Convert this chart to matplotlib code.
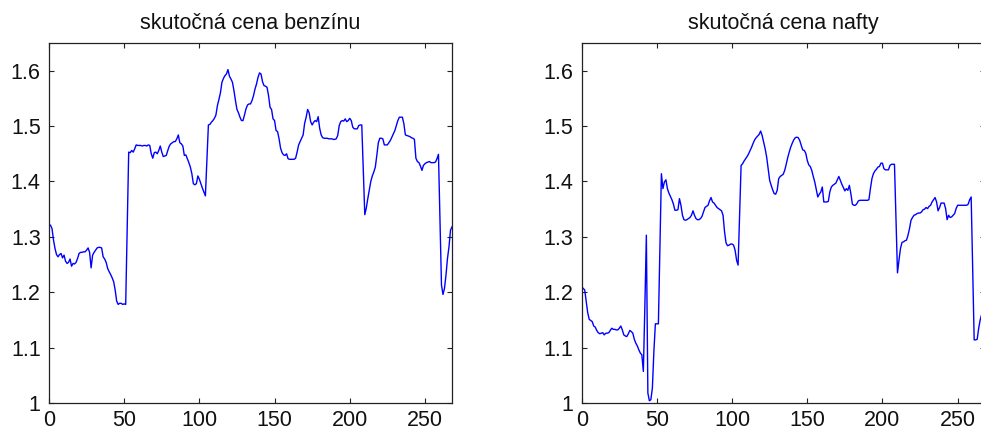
import matplotlib
matplotlib.use("Agg")
import matplotlib.pyplot as plt
import numpy as np

plt.rcParams['font.family'] = ['Liberation Sans', 'DejaVu Sans']

titles = ["skutočná cena benzínu", "skutočná cena nafty"]

x_ticks = [0, 50, 100, 150, 200, 250]
y_ticks = [1.0, 1.1, 1.2, 1.3, 1.4, 1.5, 1.6]
y_tick_labels = ["1", "1.1", "1.2", "1.3", "1.4", "1.5", "1.6"]

benzin = [
    1.321, 1.315, 1.294, 1.279, 1.268, 1.264, 1.268, 1.270, 1.262, 1.267,
    1.256, 1.252, 1.254, 1.260, 1.247, 1.252, 1.251, 1.254, 1.261, 1.270,
    1.272, 1.272, 1.273, 1.273, 1.276, 1.280, 1.272, 1.244, 1.267, 1.272,
    1.276, 1.280, 1.281, 1.281, 1.280, 1.264, 1.260, 1.254, 1.243, 1.237,
    1.232, 1.226, 1.219, 1.204, 1.184, 1.178, 1.180, 1.180, 1.178, 1.179,
    1.178, 1.316, 1.453, 1.452, 1.456, 1.453, 1.459, 1.466, 1.465, 1.465,
    1.465, 1.464, 1.465, 1.465, 1.464, 1.466, 1.465, 1.450, 1.442, 1.452,
    1.453, 1.450, 1.456, 1.464, 1.453, 1.445, 1.446, 1.447, 1.456, 1.464,
    1.468, 1.470, 1.472, 1.472, 1.477, 1.484, 1.470, 1.468, 1.464, 1.447,
    1.448, 1.441, 1.434, 1.426, 1.414, 1.396, 1.394, 1.396, 1.410, 1.404,
    1.396, 1.388, 1.381, 1.374, 1.438, 1.502, 1.503, 1.507, 1.510, 1.514,
    1.520, 1.537, 1.548, 1.560, 1.579, 1.586, 1.591, 1.594, 1.602, 1.590,
    1.585, 1.579, 1.564, 1.546, 1.530, 1.524, 1.516, 1.510, 1.510, 1.520,
    1.531, 1.538, 1.540, 1.540, 1.546, 1.555, 1.567, 1.576, 1.588, 1.596,
    1.594, 1.580, 1.573, 1.572, 1.570, 1.555, 1.534, 1.530, 1.513, 1.510,
    1.492, 1.490, 1.477, 1.460, 1.452, 1.448, 1.447, 1.450, 1.441, 1.440,
    1.440, 1.440, 1.440, 1.442, 1.453, 1.466, 1.472, 1.478, 1.484, 1.505,
    1.516, 1.530, 1.524, 1.508, 1.502, 1.507, 1.510, 1.508, 1.517, 1.496,
    1.484, 1.479, 1.478, 1.478, 1.478, 1.477, 1.477, 1.477, 1.476, 1.476,
    1.477, 1.483, 1.501, 1.508, 1.510, 1.509, 1.513, 1.508, 1.510, 1.514,
    1.510, 1.498, 1.495, 1.495, 1.495, 1.501, 1.502, 1.502, 1.420, 1.340,
    1.352, 1.369, 1.384, 1.400, 1.410, 1.417, 1.426, 1.447, 1.470, 1.478,
    1.478, 1.477, 1.466, 1.466, 1.466, 1.470, 1.474, 1.480, 1.486, 1.492,
    1.501, 1.510, 1.516, 1.516, 1.516, 1.504, 1.484, 1.483, 1.482, 1.481,
    1.479, 1.478, 1.476, 1.442, 1.436, 1.434, 1.428, 1.420, 1.429, 1.432,
    1.434, 1.435, 1.436, 1.434, 1.434, 1.434, 1.435, 1.441, 1.449, 1.331,
    1.213, 1.196, 1.207, 1.231, 1.261, 1.282, 1.312, 1.318,
]

nafta = [
    1.207, 1.204, 1.183, 1.163, 1.151, 1.149, 1.147, 1.139, 1.137, 1.131,
    1.127, 1.125, 1.126, 1.127, 1.123, 1.126, 1.126, 1.127, 1.131, 1.135,
    1.133, 1.133, 1.132, 1.132, 1.135, 1.139, 1.132, 1.123, 1.121, 1.120,
    1.125, 1.131, 1.129, 1.126, 1.115, 1.108, 1.103, 1.096, 1.090, 1.087,
    1.057, 1.174, 1.303, 1.018, 1.004, 1.006, 1.027, 1.093, 1.143, 1.143,
    1.143, 1.276, 1.414, 1.387, 1.399, 1.403, 1.387, 1.379, 1.373, 1.367,
    1.359, 1.348, 1.348, 1.349, 1.369, 1.357, 1.339, 1.331, 1.330, 1.331,
    1.333, 1.335, 1.339, 1.347, 1.339, 1.333, 1.331, 1.331, 1.333, 1.337,
    1.345, 1.353, 1.355, 1.357, 1.365, 1.371, 1.363, 1.361, 1.357, 1.353,
    1.351, 1.349, 1.347, 1.339, 1.309, 1.289, 1.284, 1.285, 1.287, 1.287,
    1.285, 1.276, 1.258, 1.249, 1.339, 1.429, 1.432, 1.437, 1.441, 1.445,
    1.450, 1.456, 1.462, 1.469, 1.475, 1.479, 1.482, 1.485, 1.491, 1.483,
    1.471, 1.459, 1.444, 1.423, 1.402, 1.393, 1.385, 1.378, 1.377, 1.384,
    1.405, 1.409, 1.411, 1.413, 1.420, 1.431, 1.443, 1.453, 1.462, 1.469,
    1.475, 1.479, 1.480, 1.479, 1.474, 1.465, 1.457, 1.456, 1.451, 1.438,
    1.430, 1.427, 1.420, 1.409, 1.399, 1.385, 1.372, 1.377, 1.381, 1.390,
    1.363, 1.363, 1.363, 1.364, 1.381, 1.390, 1.393, 1.395, 1.397, 1.403,
    1.409, 1.402, 1.395, 1.389, 1.383, 1.387, 1.384, 1.393, 1.378, 1.359,
    1.357, 1.357, 1.360, 1.365, 1.366, 1.366, 1.366, 1.366, 1.366, 1.366,
    1.367, 1.387, 1.405, 1.414, 1.419, 1.422, 1.426, 1.427, 1.433, 1.433,
    1.423, 1.421, 1.421, 1.421, 1.429, 1.431, 1.431, 1.431, 1.330, 1.235,
    1.258, 1.279, 1.290, 1.291, 1.293, 1.294, 1.303, 1.315, 1.330, 1.335,
    1.339, 1.340, 1.342, 1.343, 1.343, 1.345, 1.349, 1.350, 1.353, 1.351,
    1.355, 1.357, 1.363, 1.367, 1.371, 1.363, 1.347, 1.353, 1.361, 1.361,
    1.361, 1.351, 1.331, 1.339, 1.335, 1.336, 1.339, 1.342, 1.351, 1.357,
    1.357, 1.357, 1.357, 1.357, 1.357, 1.357, 1.359, 1.367, 1.372, 1.243,
    1.114, 1.114, 1.115, 1.135, 1.150, 1.160, 1.170, 1.180,
]

series = [benzin, nafta]

W, H = 981, 430
fig = plt.figure(figsize=(W / 100, H / 100), dpi=100)
fig.patch.set_facecolor("white")

# axes boxes in pixels: left, bottom, width, height
boxes = [(49, 27, 403, 360), (581.7, 27, 403, 360)]

for box, title, vals in zip(boxes, titles, series):
    l, b, w, h = box
    ax = fig.add_axes([l / W, b / H, w / W, h / H])
    x = np.arange(1, len(vals) + 1)
    ax.plot(x, vals, color="#0000ff", lw=1.0)
    ax.set_xlim(0, 268)
    ax.set_ylim(1.0, 1.65)
    ax.set_xticks(x_ticks)
    ax.set_xticklabels([str(t) for t in x_ticks])
    ax.set_yticks(y_ticks)
    ax.set_yticklabels(y_tick_labels)
    ax.tick_params(direction="in", top=True, right=True, length=3.5,
                   width=0.8, labelsize=15.5, color="#222222",
                   labelcolor="#111111")
    ax.tick_params(axis="y", pad=6)
    ax.tick_params(axis="x", pad=5)
    for sp in ax.spines.values():
        sp.set_color("#222222")
        sp.set_linewidth(0.9)
    ax.set_title(title, fontsize=15.5, pad=10, color="#111111")

fig.savefig("out.png", dpi=100)
